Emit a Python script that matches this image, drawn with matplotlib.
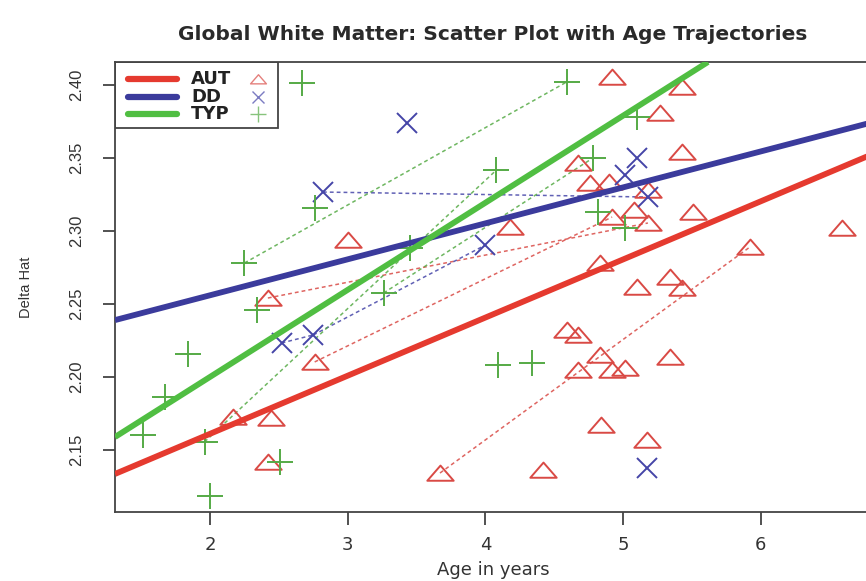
import matplotlib
matplotlib.use("Agg")
import matplotlib.pyplot as plt
from matplotlib.path import Path
from matplotlib.patches import Rectangle

plt.rcParams["font.family"] = ["Liberation Sans", "DejaVu Sans"]
# the source image is stretched sideways, so horizontal text uses a wider face
WIDE = ["DejaVu Sans", "Liberation Sans"]

# AUT (autism) group
aut_age = [2.17, 2.44, 2.42, 2.42, 2.76, 3.00, 3.67, 4.42, 4.18, 4.59, 4.67, 4.67,
           4.83, 4.92, 5.01, 5.34, 4.84, 5.17, 4.83, 5.10, 5.34, 5.43, 5.92, 6.59,
           5.18, 5.08, 4.92, 5.51, 5.18, 4.76, 4.90, 4.67, 5.27, 5.43, 4.92, 5.43]
aut_delta = [2.1726, 2.1719, 2.1418, 2.2541, 2.2103, 2.2938, 2.1342, 2.1363, 2.3027,
             2.2322, 2.2288, 2.2048, 2.2151, 2.2048, 2.2062, 2.2137, 2.1671, 2.1568,
             2.2781, 2.2616, 2.2685, 2.2610, 2.2890, 2.3021, 2.3055, 2.3144, 2.3096,
             2.3130, 2.3281, 2.3329, 2.3336, 2.3466, 2.3808, 2.3541, 2.4055, 2.3986]
aut_links = [(3, 24), (4, 26), (6, 22)]

# DD (developmental delay) group
dd_age = [2.52, 2.75, 2.82, 3.43, 4.00, 5.01, 5.10, 5.18, 5.17]
dd_delta = [2.2233, 2.2288, 2.3267, 2.3740, 2.2904, 2.3384, 2.3500, 2.3233, 2.1377]
dd_links = [(0, 1), (1, 4), (2, 7)]

# TYP (typical) group
typ_age = [1.51, 1.67, 1.84, 1.96, 2.00, 2.25, 2.34, 2.51, 2.67, 2.76, 3.26, 3.45,
           4.08, 4.09, 4.34, 4.59, 4.78, 4.82, 5.01, 5.10]
typ_delta = [2.1603, 2.1863, 2.2158, 2.1555, 2.1185, 2.2781, 2.2459, 2.1418, 2.4014,
             2.3158, 2.2575, 2.2884, 2.3418, 2.2082, 2.2096, 2.4021, 2.3500, 2.3130,
             2.3021, 2.3781]
typ_links = [(5, 15), (3, 12), (10, 16)]

# fitted age trajectories (intercept, slope)
fit_intercept = {"AUT": 2.0814, "DD": 2.2067, "TYP": 2.0807}
fit_slope = {"AUT": 0.03983, "DD": 0.02464, "TYP": 0.05967}

groups = ["AUT", "DD", "TYP"]
line_colors = {"AUT": "#E53A2F", "DD": "#3B3B9C", "TYP": "#50BE42"}
point_colors = {"AUT": "#D94A45", "DD": "#4545A8", "TYP": "#55AA45"}

# squat open triangle like the R pch=2 symbol in the stretched image
tri = Path([(-1.0, -0.55), (1.0, -0.55), (0.0, 0.6), (-1.0, -0.55)],
           [Path.MOVETO, Path.LINETO, Path.LINETO, Path.CLOSEPOLY])

data = {
    "AUT": (aut_age, aut_delta, aut_links, tri, 19),
    "DD": (dd_age, dd_delta, dd_links, "x", 14),
    "TYP": (typ_age, typ_delta, typ_links, "+", 19),
}


def main():
    fig = plt.figure(figsize=(8.66, 5.81), dpi=100)
    ax = fig.add_axes([115 / 866, 69 / 581, 756 / 866, 450 / 581])

    for g in groups:
        ages, deltas, links, marker, ms = data[g]
        for a, b in links:
            ax.plot([ages[a], ages[b]], [deltas[a], deltas[b]], linestyle=(0, (2.5, 2)),
                    lw=1.1, color=point_colors[g], alpha=0.85, zorder=1)
        ax.plot(ages, deltas, linestyle="none", marker=marker, ms=ms,
                mfc="none", mec=point_colors[g], mew=1.4, zorder=2)
        ax.axline((0, fit_intercept[g]), slope=fit_slope[g], color=line_colors[g],
                  lw=4.2, zorder=3, solid_capstyle="butt")

    ax.set_xlim(1.31, 6.80)
    ax.set_ylim(2.1075, 2.4158)
    ax.set_xticks([2, 3, 4, 5, 6])
    ax.set_xticklabels(["2", "3", "4", "5", "6"], family=WIDE, fontsize=13)
    ax.set_yticks([2.15, 2.20, 2.25, 2.30, 2.35, 2.40])
    ax.set_yticklabels(["2.15", "2.20", "2.25", "2.30", "2.35", "2.40"],
                       rotation=90, va="center", fontsize=12)
    ax.tick_params(axis="both", length=9, width=1.2, color="#333333",
                   labelcolor="#333333")
    ax.tick_params(axis="x", pad=8)
    ax.tick_params(axis="y", pad=13)
    for side in ax.spines.values():
        side.set_linewidth(1.3)
        side.set_color("#444444")

    ax.set_xlabel("Age in years", family=WIDE, fontsize=13, color="#333333",
                  labelpad=5)
    ax.set_ylabel("Delta Hat", fontsize=10.5, color="#333333", labelpad=26)
    ax.set_title("Global White Matter: Scatter Plot with Age Trajectories",
                 family=WIDE, fontsize=14.5, fontweight="bold", color="#2a2a2a", pad=16)

    # legend drawn in the R style: line, label, then the point symbol
    tr = ax.transAxes
    ax.add_patch(Rectangle((0, 0.853), 0.2156, 0.147, transform=tr, fill=False,
                           lw=1.3, edgecolor="#444444", zorder=5))
    rows = [0.962, 0.923, 0.884]
    for g, yy in zip(groups, rows):
        _, _, _, marker, ms = data[g]
        ax.plot([0.0172, 0.082], [yy, yy], transform=tr, color=line_colors[g],
                lw=4.5, solid_capstyle="round", zorder=6, clip_on=False)
        ax.text(0.101, yy, g, transform=tr, family=WIDE, fontsize=13,
                fontweight="bold", va="center", color="#222222", zorder=6)
        ax.plot([0.189], [yy], transform=tr, marker=marker, ms=ms * 0.6,
                mfc="none", mec=point_colors[g], mew=1.0, alpha=0.7,
                linestyle="none", zorder=6)

    fig.savefig("out.png", dpi=100)


if __name__ == "__main__":
    main()
